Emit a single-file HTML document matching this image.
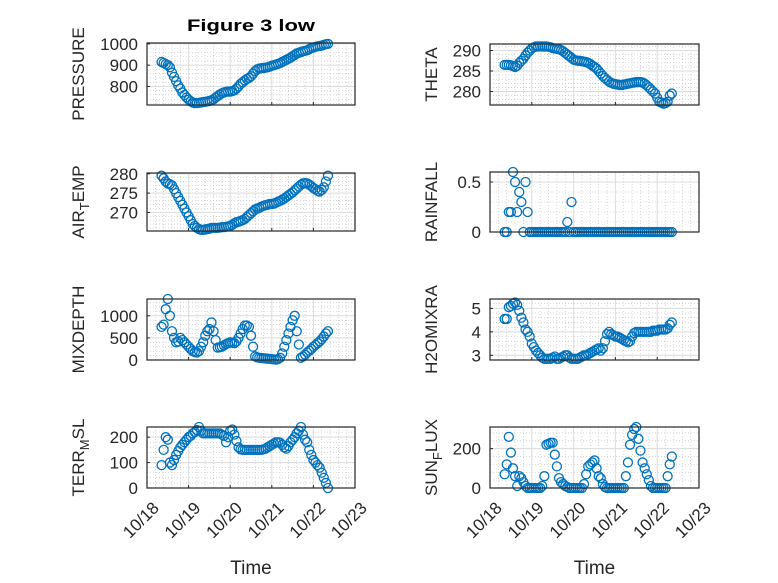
<!DOCTYPE html>
<html><head><meta charset="utf-8"><style>
html,body{margin:0;padding:0;background:#fff;}
svg{display:block;font-family:"Liberation Sans",sans-serif;}
</style></head><body>
<svg id="fig" width="778" height="583" viewBox="0 0 778 583" xmlns="http://www.w3.org/2000/svg">
<rect x="0" y="0" width="778" height="583" fill="#fff"/>
<text x="251" y="31" text-anchor="middle" font-size="17" font-weight="bold" fill="#000" textLength="128" lengthAdjust="spacingAndGlyphs">Figure 3 low</text>
</svg>
<script>
const days = [0.35,0.40,0.45,0.50,0.55,0.60,0.65,0.70,0.75,0.80,0.85,0.90,0.95,1.00,1.05,1.10,1.15,1.20,1.25,1.30,1.35,1.40,1.45,1.50,1.55,1.60,1.65,1.70,1.75,1.80,1.85,1.90,1.95,2.00,2.05,2.10,2.15,2.20,2.25,2.30,2.35,2.40,2.45,2.50,2.55,2.60,2.65,2.70,2.75,2.80,2.85,2.90,2.95,3.00,3.05,3.10,3.15,3.20,3.25,3.30,3.35,3.40,3.45,3.50,3.55,3.60,3.65,3.70,3.75,3.80,3.85,3.90,3.95,4.00,4.05,4.10,4.15,4.20,4.25,4.30,4.35];
const xTickLabels = ["10/18","10/19","10/20","10/21","10/22","10/23"];
const pressure = [915,910,905,900,890,865,845, 825,805,790,772,760,748, 738,730,725,722,722,723,725, 727,728,730,732,735,740,748, 755,762,768,772,775,776, 776,778,782,790,800,812,820, 828,835,840,848,860,872,880, 884,886,887,888,890,893, 897,900,903,906,910,915,920, 925,930,935,942,948,955,958, 962,965,967,970,975,980, 983,986,988,990,992,995,998,1000];
const airTemp = [279.5,278.8,278,277.5,277.3,277,276, 275,274,273,272,271,270, 269,268,267,266.5,266,265.7,265.5, 265.5,265.6,265.7,265.8,266,266,266, 266,266.1,266.2,266.2,266.3,266.4, 266.5,266.8,267.2,267.5,267.6,267.8,268, 268.3,268.8,269.3,269.8,270.3,270.8,271, 271.2,271.5,271.7,271.9,272,272.2, 272.2,272.3,272.5,272.8,273,273.3,273.6, 274,274.4,274.8,275.2,275.7,276.2,276.7, 277.2,277.5,277.6,277.5,277.2,276.8, 276.3,276,275.6,275.4,275.8,276.5,278,279.5];
const mixDepth = [750,800,1150,1380,1000,650,500, 400,420,500,450,400,350, 300,250,200,180,170,200,300, 400,550,650,700,850,650,450, 280,290,300,330,360,380, 400,390,380,420,500,600,700, 780,780,750,550,300,80,60, 50,45,40,35,30,25, 20,15,10,20,50,150,300, 450,600,750,900,1000,650,350, 50,80,120,170,210,250, 300,340,380,420,470,530,600,650];
const terrMsl = [90,150,200,190,100,90,110, 130,145,160,170,180,190, 200,205,215,220,228,240,225, 215,215,215,215,215,215,215, 215,215,210,205,180,200, 225,230,210,185,160,152,150, 150,150,150,150,150,150,150, 150,150,152,155,160,165, 170,175,180,180,178,170,160, 155,165,180,190,200,215,225, 240,210,190,180,150,130, 110,100,90,80,60,40,20,0];
const theta = [286.5,286.5,286.5,286.4,286.2,286,286.3, 287,287.5,288,288.8,289.5,290, 290.5,290.8,291,291,291,291,291, 291,290.9,290.8,290.6,290.5,290.4,290.3, 290.1,289.8,289.4,289,288.6,288.2, 287.8,287.6,287.5,287.5,287.4,287.3,287.2, 287,286.7,286.3,286,285.6,285,284.4, 283.8,283.3,282.8,282.4,282.1,281.9, 281.8,281.7,281.6,281.6,281.7,281.8,281.9, 282,282.1,282.2,282.3,282.3,282.3,282.2, 281.9,281.5,281,280.5,280,279.5, 278.5,277.5,277.3,277,277.2,277.5,279,279.5];
const rainfall = [0,0,0.2,0.2,0.6,0.5,0.2, 0.4,0.3,0,0.5,0.2,0, 0,0,0,0,0,0,0, 0,0,0,0,0,0,0, 0,0,0,0.1,0,0.3, 0,0,0,0,0,0,0, 0,0,0,0,0,0,0, 0,0,0,0,0,0, 0,0,0,0,0,0,0, 0,0,0,0,0,0,0, 0,0,0,0,0,0, 0,0,0,0,0,0,0,0];
const h2oMix = [4.55,4.55,5.05,5.1,5.2,5.25,5.15, 4.9,4.6,4.4,4.1,4.0,3.8, 3.5,3.35,3.2,3.1,3.0,2.9,2.85, 2.85,2.85,2.85,2.9,2.95,2.85,2.85, 2.9,2.95,3.0,3.0,2.9,2.85, 2.85,2.85,2.85,2.9,2.95,3.0,3.0, 3.05,3.1,3.15,3.2,3.25,3.3,3.2, 3.3,3.6,3.9,4.0,3.9,3.85, 3.8,3.8,3.75,3.7,3.65,3.6,3.55, 3.6,3.8,3.95,4.0,4.0,4.0,4.0, 4.0,4.0,4.0,4.0,4.05,4.05, 4.05,4.1,4.1,4.1,4.1,4.15,4.3,4.4];
const sunFlux = [70,120,260,180,100,60,10, 60,50,30,10,0,0, 0,0,0,0,0,10,60, 220,225,230,230,170,110,50, 30,20,10,5,0,0, 0,0,0,0,0,20,70, 110,120,130,140,100,60,50, 20,5,0,0,0,0, 0,0,0,0,0,60,130, 220,270,300,310,250,190,130, 100,70,40,10,0,0, 0,0,0,0,0,60,120,160];

const pressureTicks = [800,900,1000];
const airTempTicks = [270,275,280];
const mixDepthTicks = [0,500,1000];
const terrTicks = [0,100,200];
const thetaTicks = [280,285,290];
const rainTicks = [0,0.5];
const h2oTicks = [3,4,5];
const sunTicks = [0,200];

const NS = "http://www.w3.org/2000/svg";
const svg = document.getElementById('fig');
function mk(tag, attrs, parent){
  const e = document.createElementNS(NS, tag);
  for (const k in attrs) e.setAttribute(k, attrs[k]);
  (parent||svg).appendChild(e);
  return e;
}
const panels = [
  {key:'pressure', vals:pressure, ticks:pressureTicks, ymin:713, ymax:1004, minor:20, x0:147, w:208, y0:43, y1:105, label:['PRESSURE'], bottom:false},
  {key:'air-temp', vals:airTemp, ticks:airTempTicks, ymin:265.2, ymax:280.2, minor:1, x0:147, w:208, y0:173, y1:231, label:['AIR','T','EMP'], bottom:false},
  {key:'mixdepth', vals:mixDepth, ticks:mixDepthTicks, ymin:0, ymax:1380, minor:100, x0:147, w:208, y0:299, y1:360, label:['MIXDEPTH'], bottom:false},
  {key:'terr-msl', vals:terrMsl, ticks:terrTicks, ymin:0, ymax:240, minor:20, x0:147, w:208, y0:427, y1:488, label:['TERR','M','SL'], bottom:true},
  {key:'theta', vals:theta, ticks:thetaTicks, ymin:276.7, ymax:291.6, minor:1, x0:490, w:209, y0:44, y1:105, label:['THETA'], bottom:false},
  {key:'rainfall', vals:rainfall, ticks:rainTicks, ymin:0, ymax:0.6, minor:0.1, x0:490, w:209, y0:172, y1:232, label:['RAINFALL'], bottom:false},
  {key:'h2omixra', vals:h2oMix, ticks:h2oTicks, ymin:2.8, ymax:5.4, minor:0.2, x0:490, w:209, y0:299, y1:360, label:['H2OMIXRA'], bottom:false},
  {key:'sun-flux', vals:sunFlux, ticks:sunTicks, ymin:0, ymax:310, minor:40, x0:490, w:209, y0:427, y1:488, label:['SUN','F','LUX'], bottom:true}
];
panels.forEach(p=>{
  const g = mk('g', {});
  
  
  const xs = t => p.x0 + t/5*p.w;
  const ys = v => p.y1 - (v-p.ymin)/(p.ymax-p.ymin)*(p.y1-p.y0);
  mk('rect',{x:p.x0,y:p.y0,width:p.w,height:p.y1-p.y0,fill:'#fff'},g);
  for(let i=1;i<25;i++){ if(i%5===0) continue; const x=xs(i/5);
    const l=mk('line',{x1:x,x2:x,y1:p.y0,y2:p.y1,stroke:'#bdbdbd','stroke-width':0.6,'stroke-dasharray':'1,2'},g);
      }
  const start = Math.ceil(p.ymin/p.minor)*p.minor;
  for(let v=start; v<p.ymax; v+=p.minor){ const y=ys(v); if(y<=p.y0+0.5||y>=p.y1-0.5) continue;
    const l=mk('line',{x1:p.x0,x2:p.x0+p.w,y1:y,y2:y,stroke:'#bdbdbd','stroke-width':0.6,'stroke-dasharray':'1,2'},g);
      }
  for(let i=1;i<5;i++){ const x=xs(i);
    const l=mk('line',{x1:x,x2:x,y1:p.y0,y2:p.y1,stroke:'#dcdcdc','stroke-width':1},g);
      }
  p.ticks.forEach(v=>{ const y=ys(v);
    const l=mk('line',{x1:p.x0,x2:p.x0+p.w,y1:y,y2:y,stroke:'#dcdcdc','stroke-width':1},g);
     
    const tk=mk('line',{x1:p.x0,x2:p.x0+3,y1:y,y2:y,stroke:'#262626','stroke-width':1},g);
     
    const tx=mk('text',{x:p.x0-9,y:y+6,'text-anchor':'end','font-size':17,fill:'#262626'},g);
    tx.textContent = String(v);
     
  });
  for(let i=0;i<=5;i++){ const x=xs(i);
    const tk=mk('line',{x1:x,x2:x,y1:p.y1,y2:p.y1-3,stroke:'#262626','stroke-width':1},g);
     
    if(p.bottom){
      const tx=mk('text',{transform:`translate(${x+13},${p.y1+21}) rotate(-45)`,'text-anchor':'end','font-size':17,fill:'#262626'},g);
      tx.textContent = xTickLabels[i];
       
    }
  }
  p.vals.forEach((v,i)=>{
    const c=mk('circle',{cx:xs(days[i]).toFixed(2),cy:ys(v).toFixed(2),r:4.5,fill:'none',stroke:'#0072BD','stroke-width':1.3},g);
    
    
  });
  const box=mk('rect',{x:p.x0,y:p.y0,width:p.w,height:p.y1-p.y0,fill:'none',stroke:'#262626','stroke-width':1.2},g);
   
  const ly=(p.y0+p.y1)/2;
  const t=mk('text',{transform:`translate(${p.x0===147?84:437},${ly}) rotate(-90)`,'text-anchor':'middle','font-size':17,fill:'#262626'},g);
  
  
  if(p.label.length===1){ t.textContent=p.label[0]; }
  else {
    const a=mk('tspan',{},t); a.textContent=p.label[0];
    const b=mk('tspan',{'font-size':13,dy:5},t); b.textContent=p.label[1];
    const c=mk('tspan',{dy:-5},t); c.textContent=p.label[2];
  }
  if(p.bottom){
    const tl=mk('text',{x:p.x0+p.w/2,y:574,'text-anchor':'middle','font-size':19,fill:'#262626'},g);
    tl.textContent='Time';
     
  }
});
</script>
</body></html>
